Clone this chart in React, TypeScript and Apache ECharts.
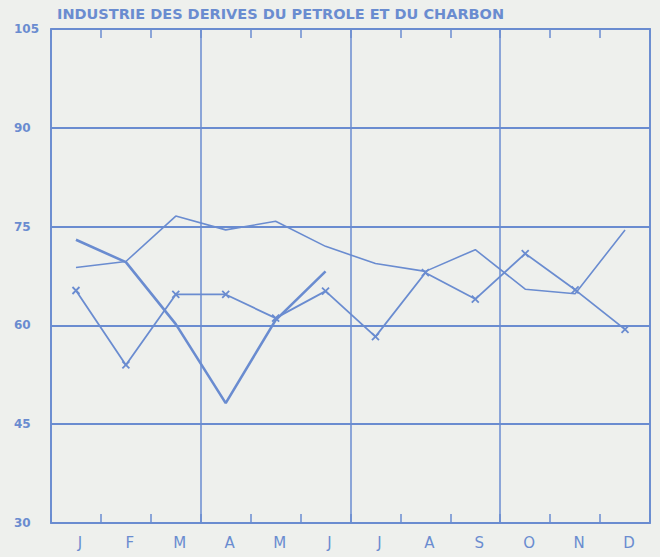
import React, { useEffect, useRef } from "react";
import * as echarts from "echarts";

const months = ["J", "F", "M", "A", "M", "J", "J", "A", "S", "O", "N", "D"];
const yTicks = [30, 45, 60, 75, 90, 105];
const seriesThick = [73.0, 69.6, 60.2, 48.2, 60.8, 68.2, null, null, null, null, null, null];
const seriesThin = [68.8, 69.7, 76.6, 74.5, 75.8, 72.0, 69.4, 68.2, 71.5, 65.5, 64.8, 74.5];
const seriesCross = [65.3, 54.0, 64.7, 64.7, 61.1, 65.2, 58.3, 68.0, 64.0, 70.9, 65.4, 59.4];
const titleText = "INDUSTRIE DES DERIVES DU PETROLE ET DU CHARBON";

const BLUE = "#6a8cd0";
const BG = "#eef0ed";

export default function App() {
  const ref = useRef<HTMLDivElement>(null);
  useEffect(() => {
    if (!ref.current) return;
    const chart = echarts.init(ref.current, null, { renderer: "svg" });
    chart.setOption({
      animation: false,
      backgroundColor: BG,
      title: {
        text: titleText,
        left: 52,
        top: 1,
        textStyle: {
          fontFamily: "DejaVu Sans",
          fontWeight: "bold",
          fontSize: 14.5,
          color: BLUE,
        },
      },
      grid: {
        left: 51,
        right: 10,
        top: 29,
        bottom: 34,
        show: true,
        borderColor: BLUE,
        borderWidth: 1.8,
        backgroundColor: "transparent",
      },
      xAxis: [
        {
          type: "category",
          data: months,
          position: "bottom",
          boundaryGap: true,
          axisLine: { show: false },
          axisTick: {
            show: true,
            inside: true,
            length: 9,
            interval: 0,
            lineStyle: { color: BLUE, width: 1.5 },
          },
          splitLine: {
            show: true,
            interval: (i: number) => i % 3 === 0,
            lineStyle: { color: BLUE, width: 1.5 },
          },
          axisLabel: {
            interval: 0,
            color: BLUE,
            fontFamily: "DejaVu Sans",
            fontSize: 15,
            margin: 12,
            padding: [0, 0, 0, 8],
          },
        },
        {
          type: "category",
          data: months,
          position: "top",
          boundaryGap: true,
          axisLine: { show: false },
          axisTick: {
            show: true,
            inside: true,
            length: 9,
            interval: 0,
            lineStyle: { color: BLUE, width: 1.5 },
          },
          axisLabel: { show: false },
          splitLine: { show: false },
        },
      ],
      yAxis: {
        type: "value",
        min: 30,
        max: 105,
        interval: 15,
        axisLine: { show: false },
        axisTick: { show: false },
        splitLine: { show: true, lineStyle: { color: BLUE, width: 2 } },
        axisLabel: {
          align: "left",
          margin: 37,
          color: BLUE,
          fontFamily: "DejaVu Sans",
          fontWeight: "bold",
          fontSize: 12,
          formatter: (v: number) => (yTicks.includes(v) ? String(v) : ""),
        },
      },
      series: [
        {
          type: "line",
          data: seriesThick,
          showSymbol: false,
          symbol: "none",
          lineStyle: { color: BLUE, width: 2.6 },
          itemStyle: { color: BLUE },
        },
        {
          type: "line",
          data: seriesThin,
          showSymbol: false,
          symbol: "none",
          lineStyle: { color: BLUE, width: 1.6 },
          itemStyle: { color: BLUE },
        },
        {
          type: "line",
          data: seriesCross,
          symbol: "path://M0,0L10,10M10,0L0,10",
          symbolSize: 7,
          showSymbol: true,
          lineStyle: { color: BLUE, width: 1.8 },
          itemStyle: { color: BLUE, borderColor: BLUE, borderWidth: 1.8 },
        },
      ],
    });
    return () => chart.dispose();
  }, []);
  return (
    <div
      ref={ref}
      style={{ position: "fixed", left: 0, top: 0, width: 660, height: 557, background: BG }}
    />
  );
}
